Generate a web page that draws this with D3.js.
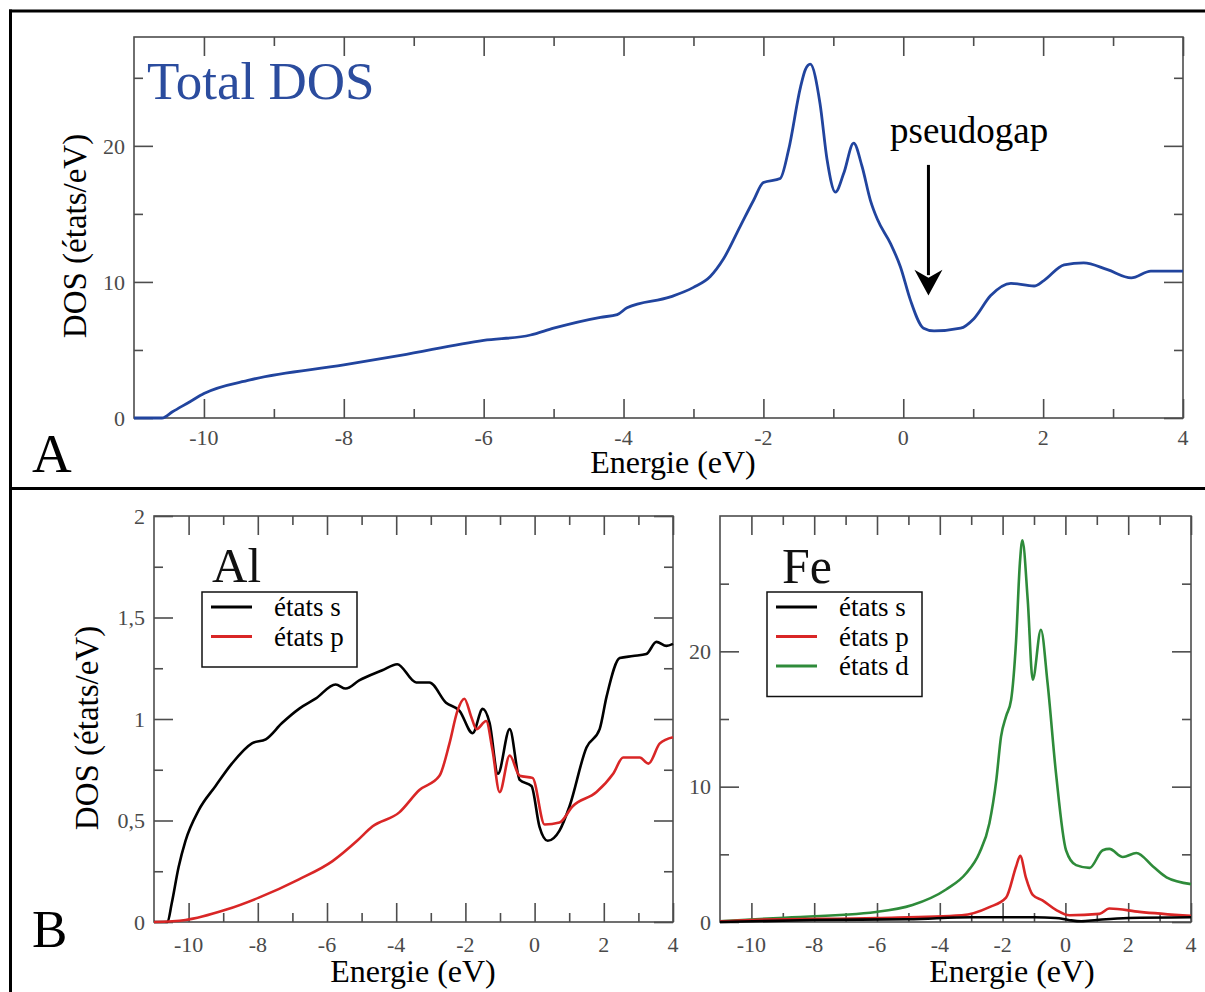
<!DOCTYPE html>
<html><head><meta charset="utf-8">
<script src="https://cdn.jsdelivr.net/npm/d3@7"></script>
<style>
html,body{margin:0;padding:0;background:#fff;}
svg{display:block;}
text{font-family:"Liberation Serif","Times New Roman",serif;}
</style></head>
<body>
<svg id="chart" width="1205" height="992"></svg>
<script>
// ---------------- DATA ----------------
const totalE = [-11,-10.6,-10.45,-10.2,-10,-9.34,-8,-7.19,-6.0,-5.33,-5.0,-4.33,-4.09,-3.95,-3.33,-3.0,-2.76,-2.57,-2.33,-2.14,-2.0,-1.76,-1.64,-1.47,-1.4,-1.33,-1.19,-1.09,-0.97,-0.85,-0.71,-0.59,-0.47,-0.37,-0.18,-0.04,0.10,0.29,0.44,0.82,1.01,1.25,1.54,1.87,2.01,2.30,2.58,2.92,3.26,3.54,4.0];
const totalDOS = [0,0,0.46,1.2,1.8,2.8,3.9,4.6,5.7,6.1,6.6,7.4,7.6,8.1,8.9,9.6,10.4,11.7,14.1,16.0,17.3,17.6,19.7,24.3,25.6,26.0,23.1,19.0,16.6,18.0,20.2,18.5,16.0,14.6,12.8,11.1,8.7,6.6,6.4,6.6,7.3,9.0,9.9,9.7,10.1,11.25,11.4,10.9,10.3,10.8,10.8];

const alSE = [-11,-10.61,-10.49,-10.29,-10.09,-9.71,-9.22,-8.75,-8.17,-7.77,-7.3,-6.81,-6.33,-5.75,-5.46,-5.07,-4.4,-3.97,-3.42,-3.04,-2.56,-2.17,-1.79,-1.5,-1.3,-1.06,-0.72,-0.43,-0.09,0.14,0.38,0.72,1.01,1.5,1.88,2.08,2.46,2.84,3.23,3.52,3.81,4.0];
const alS  = [0,0,0.09,0.27,0.40,0.55,0.67,0.78,0.88,0.90,0.98,1.05,1.10,1.17,1.15,1.19,1.24,1.27,1.18,1.18,1.08,1.04,0.93,1.05,0.98,0.73,0.95,0.70,0.67,0.47,0.40,0.45,0.57,0.86,0.95,1.11,1.30,1.31,1.32,1.38,1.36,1.37];
const alPE = [-11,-10.09,-8.93,-7.97,-6.81,-5.84,-5.13,-4.69,-3.91,-3.33,-2.75,-2.46,-2.23,-2.03,-1.83,-1.68,-1.4,-1.22,-1.01,-0.72,-0.43,-0.06,0.29,0.72,1.1,1.79,2.27,2.56,3.04,3.29,3.62,4.0];
const alP  = [0,0.01,0.06,0.12,0.21,0.30,0.40,0.47,0.54,0.65,0.72,0.88,1.04,1.10,1.01,0.95,0.99,0.85,0.64,0.82,0.72,0.71,0.48,0.49,0.57,0.64,0.73,0.81,0.81,0.78,0.88,0.91];

const feSE = [-11,-8,-5,-3,-1,-0.3,0.1,0.5,1.0,2.0,4.0];
const feS  = [0.0,0.15,0.2,0.35,0.35,0.3,0.15,0.05,0.15,0.3,0.35];
const fePE = [-11,-10,-6,-3.3,-2.42,-1.89,-1.57,-1.44,-1.26,-1.04,-0.73,-0.3,0.13,1.08,1.4,2.36,4.0];
const feP  = [0.05,0.15,0.3,0.5,1.1,1.8,4.1,4.9,3.3,2.0,1.6,0.9,0.5,0.6,1.0,0.75,0.45];
const feDE = [-11,-9.13,-6.03,-4.87,-3.8,-3.16,-2.74,-2.42,-2.2,-2.05,-1.89,-1.73,-1.57,-1.45,-1.37,-1.2,-1.04,-0.78,-0.57,-0.3,0.02,0.34,0.77,1.19,1.4,1.83,2.26,2.79,3.22,4.0];
const feD  = [0.05,0.3,0.74,1.25,2.4,3.6,5.1,7.3,10.5,13.7,15.2,16.4,20.8,26.5,28.2,23.8,17.9,21.6,17.7,11.0,5.3,4.2,4.0,5.3,5.4,4.8,5.1,4.1,3.3,2.8];

const xTickValues = [-10,-8,-6,-4,-2,0,2,4];
const xTickLabels = ["-10","-8","-6","-4","-2","0","2","4"];
const xMinorValues = [-9,-7,-5,-3,-1,1,3];
const totalYTicks = [0,10,20];
const totalYLabels = ["0","10","20"];
const totalYMinor = [5,15,25];
const alYTicks = [0,0.5,1,1.5,2];
const alYLabels = ["0","0,5","1","1,5","2"];
const alYMinor = [0.25,0.75,1.25,1.75];
const feYTicks = [0,10,20];
const feYLabels = ["0","10","20"];
const feYMinor = [5,15,25];
const legendAl = ["états s","états p"];
const legendFe = ["états s","états p","états d"];

// ---------------- DRAW ----------------
const svg = d3.select("#chart");
svg.append("rect").attr("width",1205).attr("height",992).attr("fill","#fff");

const AXIS = "#4d4d4d";
const BLUE = "#21449e";
const RED = "#d92626";
const GREEN = "#2e8b3a";

function panel(o){
  const g = svg.append("g");
  const x = d3.scaleLinear().domain(o.xd).range([o.x0,o.x1]);
  const y = d3.scaleLinear().domain(o.yd).range([o.y1,o.y0]);
  const MAJ = 19, MIN = 9;
  function tickAxis(axisFn, scale, vals, size, tr){
    const a = g.append("g").attr("transform",tr)
      .call(axisFn(scale).tickValues(vals).tickSize(-size).tickFormat(""));
    a.select(".domain").remove();
    a.selectAll("line").attr("stroke",AXIS).attr("stroke-width",1.6);
  }
  tickAxis(d3.axisBottom,x,o.xMaj,MAJ,`translate(0,${o.y1})`);
  tickAxis(d3.axisBottom,x,o.xMin,MIN,`translate(0,${o.y1})`);
  tickAxis(d3.axisTop,x,o.xMaj,MAJ,`translate(0,${o.y0})`);
  tickAxis(d3.axisTop,x,o.xMin,MIN,`translate(0,${o.y0})`);
  tickAxis(d3.axisLeft,y,o.yMaj,MAJ,`translate(${o.x0},0)`);
  tickAxis(d3.axisLeft,y,o.yMin,MIN,`translate(${o.x0},0)`);
  tickAxis(d3.axisRight,y,o.yMaj,MAJ,`translate(${o.x1},0)`);
  tickAxis(d3.axisRight,y,o.yMin,MIN,`translate(${o.x1},0)`);
  g.append("rect").attr("x",o.x0).attr("y",o.y0).attr("width",o.x1-o.x0).attr("height",o.y1-o.y0)
    .attr("fill","none").attr("stroke",AXIS).attr("stroke-width",1.6);
  // tick labels
  g.selectAll(".xl").data(o.xMaj).enter().append("text")
    .attr("x",d=>x(d)).attr("y",o.y1+o.xlOff).attr("text-anchor","middle")
    .attr("font-size",o.tickFs).attr("fill","#4a4a4a").text((d,i)=>o.xLab[i]);
  g.selectAll(".yl").data(o.yMaj).enter().append("text")
    .attr("x",o.x0-9).attr("y",d=>y(d)).attr("dy","0.35em").attr("text-anchor","end")
    .attr("font-size",o.tickFs).attr("fill","#4a4a4a").text((d,i)=>o.yLab[i]);
  // series
  const line = d3.line().x(d=>x(d[0])).y(d=>y(d[1])).curve(d3.curveMonotoneX);
  o.series.forEach(s=>{
    const pts = s.e.map((e,i)=>[e,s.v[i]]);
    g.append("path").attr("d",line(pts)).attr("fill","none").attr("stroke",s.c)
      .attr("stroke-width",s.w||2.6).attr("stroke-linejoin","round");
  });
  return {g,x,y};
}

// Top panel
const A = panel({xd:[-11,4],yd:[0,28],x0:134,x1:1183,y0:37,y1:418,
  xMaj:xTickValues,xMin:xMinorValues,yMaj:totalYTicks,yMin:totalYMinor,
  xLab:xTickLabels,yLab:totalYLabels,xlOff:27,tickFs:22,
  series:[{e:totalE,v:totalDOS,c:BLUE,w:2.8}]});

// Bottom-left Al
const Bl = panel({xd:[-11,4],yd:[0,2],x0:154,x1:673,y0:516,y1:922,
  xMaj:xTickValues,xMin:xMinorValues,yMaj:alYTicks,yMin:alYMinor,
  xLab:xTickLabels,yLab:alYLabels,xlOff:30,tickFs:22,
  series:[{e:alSE,v:alS,c:"#000"},{e:alPE,v:alP,c:RED}]});

// Bottom-right Fe
const Br = panel({xd:[-11,4],yd:[0,30],x0:720,x1:1191,y0:516,y1:922,
  xMaj:xTickValues,xMin:xMinorValues,yMaj:feYTicks,yMin:feYMinor,
  xLab:xTickLabels,yLab:feYLabels,xlOff:30,tickFs:22,
  series:[{e:feDE,v:feD,c:GREEN},{e:fePE,v:feP,c:RED},{e:feSE,v:feS,c:"#000"}]});

// Axis titles
function ytitle(xp,yp,fs){
  svg.append("text").attr("transform",`translate(${xp},${yp}) rotate(-90)`)
    .attr("text-anchor","middle").attr("font-size",fs).attr("fill","#000").text("DOS (états/eV)");
}
function xtitle(xp,yp,fs){
  svg.append("text").attr("x",xp).attr("y",yp).attr("text-anchor","middle")
    .attr("font-size",fs).attr("fill","#000").text("Energie (eV)");
}
ytitle(86,236,33);
ytitle(98,728,33);
xtitle(673,473,32);
xtitle(413,982,32);
xtitle(1012,982,32);

// Titles / labels
svg.append("text").attr("x",147).attr("y",99).attr("font-size",53).attr("fill","#2b4c9e").text("Total DOS");
svg.append("text").attr("x",890).attr("y",143).attr("font-size",37).attr("fill","#000").text("pseudogap");
svg.append("text").attr("x",32).attr("y",472).attr("font-size",55).attr("fill","#000").text("A");
svg.append("text").attr("x",32).attr("y",947).attr("font-size",53).attr("fill","#000").text("B");
svg.append("text").attr("x",212).attr("y",582).attr("font-size",49).attr("fill","#111").text("Al");
svg.append("text").attr("x",782).attr("y",583).attr("font-size",50).attr("fill","#111").text("Fe");

// Pseudogap arrow (in data coords of the total DOS panel)
const ax = A.x(0.36);
svg.append("line").attr("x1",ax).attr("x2",ax).attr("y1",A.y(18.6)).attr("y2",A.y(10.5))
  .attr("stroke","#000").attr("stroke-width",3);
svg.append("path").attr("d",`M${ax},${A.y(9.0)} L${ax-14},${A.y(10.9)} L${ax},${A.y(10.3)} L${ax+14},${A.y(10.9)} Z`)
  .attr("fill","#000");

// Legends
function legend(x0,y0,w,labels,colors){
  const h = 20 + labels.length*29.5 - 4;
  svg.append("rect").attr("x",x0).attr("y",y0).attr("width",w).attr("height",h)
    .attr("fill","#fff").attr("stroke","#111").attr("stroke-width",1.5);
  labels.forEach((l,i)=>{
    const yy = y0+15+i*29.5;
    svg.append("line").attr("x1",x0+9).attr("x2",x0+50).attr("y1",yy).attr("y2",yy)
      .attr("stroke",colors[i]).attr("stroke-width",3);
    svg.append("text").attr("x",x0+72).attr("y",yy+9).attr("font-size",27).attr("fill","#000").text(l);
  });
}
legend(202,592,155,legendAl,["#000",RED]);
legend(767,592,155,legendFe,["#000",RED,GREEN]);

// Outer frame lines
svg.append("line").attr("x1",9).attr("x2",1205).attr("y1",11).attr("y2",11).attr("stroke","#000").attr("stroke-width",3);
svg.append("line").attr("x1",10.5).attr("x2",10.5).attr("y1",9.5).attr("y2",992).attr("stroke","#000").attr("stroke-width",3);
svg.append("line").attr("x1",9).attr("x2",1205).attr("y1",488.5).attr("y2",488.5).attr("stroke","#000").attr("stroke-width",3);
</script>
</body></html>
